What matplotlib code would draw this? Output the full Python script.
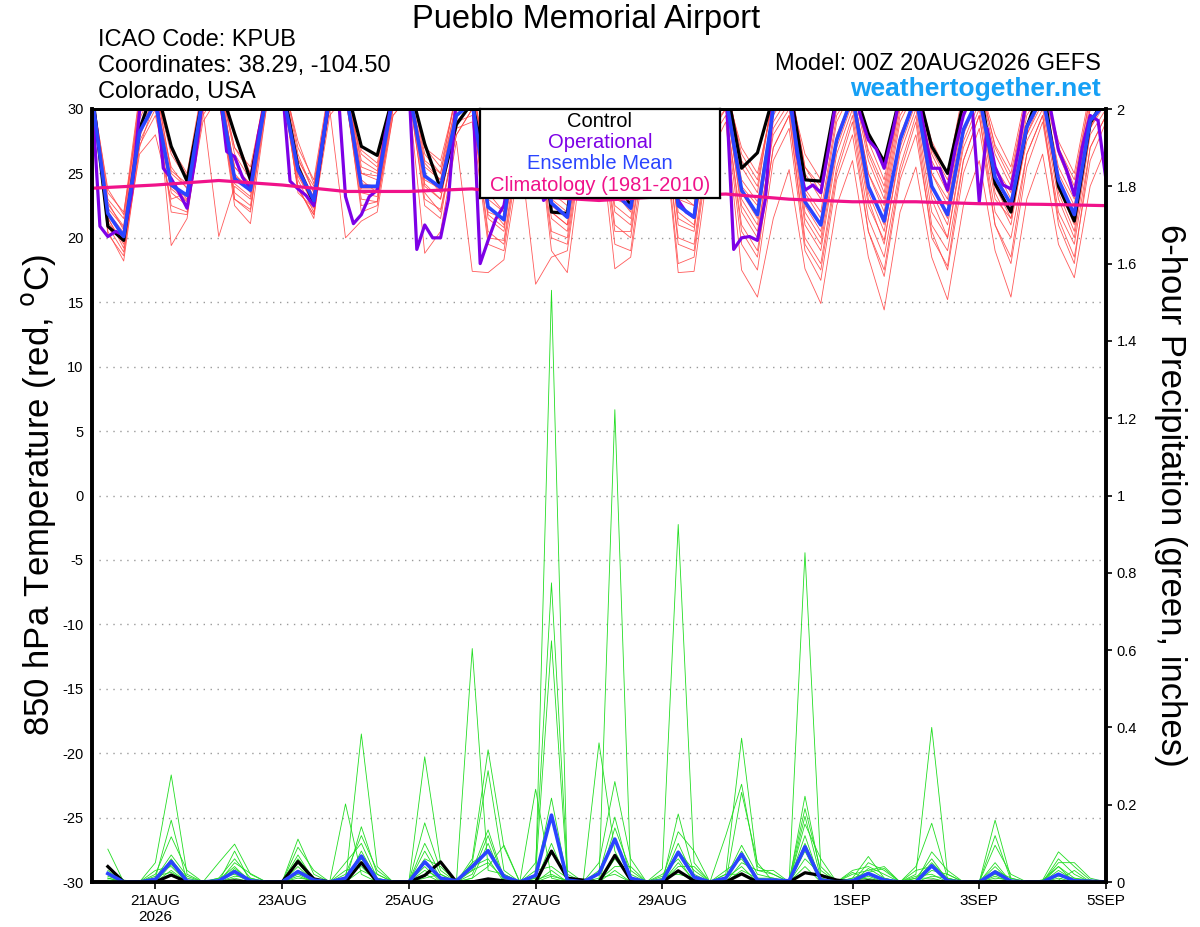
import numpy as np
import matplotlib.pyplot as plt

plt.rcParams['font.family'] = ['Liberation Sans', 'DejaVu Sans']
plt.rcParams['axes.unicode_minus'] = False

# time axes (hours after 00Z 20AUG2026)
hours6 = np.arange(0, 385, 6)
hours3 = np.arange(0, 385, 3)
clim_hours = np.arange(0, 385, 24)

tick_hours = [24, 72, 120, 168, 216, 288, 336, 384]
tick_labels = ['21AUG\n2026', '23AUG', '25AUG', '27AUG', '29AUG', '1SEP', '3SEP', '5SEP']

# 850 hPa temperature, 6-hourly
control_t = [31.5, 20.9, 19.8, 28.4,
             32, 27.1, 24.4, 31,
             32, 28.1, 24.5, 31,
             32, 25.5, 22.7, 31,
             32, 27.1, 26.4, 31,
             32, 27.3, 23.8, 28.8,
             30.5, 24.5, 23.8, 31,
             32, 22.0, 21.9, 31,
             32, 25.0, 22.4, 31,
             32, 25.5, 23.8, 31,
             32, 25.4, 26.6, 31,
             32, 24.5, 24.4, 31,
             32, 28.1, 25.9, 31,
             32, 27.1, 25.0, 30.5,
             32, 24.2, 22.0, 28.6,
             32, 24.0, 21.3, 28.9,
             31]

mean_t = [31, 21.9, 20.1, 28.2,
          30.5, 24.1, 23.3, 31,
          31.5, 24.6, 23.7, 31,
          31.5, 25.3, 22.9, 31,
          31.5, 24.0, 24.0, 31,
          31.5, 24.8, 23.9, 29.5,
          30.5, 22.4, 21.4, 30,
          31, 22.7, 21.6, 30,
          31, 23.5, 22.3, 30,
          31, 22.5, 21.6, 30.5,
          31, 23.7, 21.8, 30,
          31, 22.8, 21.0, 27.6,
          31, 24.0, 21.3, 27.6,
          31, 24.0, 21.8, 28.4,
          31, 24.7, 22.6, 28.6,
          31, 24.5, 21.8, 29.1,
          30.5]

# operational run, 3-hourly
oper_t = [31, 20.9, 20.1, 20.5, 20.2, 23.5, 29.8, 31.5,
          32, 25.4, 24.6, 23.5, 22.3, 26, 31, 32,
          32, 26.7, 26.3, 24.7, 23.8, 28, 31, 32,
          32, 24.4, 23.8, 23.3, 22.5, 27, 31, 32,
          23.2, 21.1, 21.8, 23.2, 23.7, 28, 31, 32,
          32, 19.1, 21.0, 20.0, 20.0, 23.0, 31, 32,
          32, 18.0, 19.8, 21.5, 22.5, 26, 31, 32,
          27, 22.9, 23.5, 24, 23.5, 28, 31, 32,
          32, 26, 24.5, 24, 23.5, 27, 31, 32,
          32, 25, 22.9, 22.0, 21.6, 26, 31, 32,
          32, 19.1, 20.0, 20.1, 19.8, 23.0, 31, 32,
          32, 26.5, 23.7, 24.1, 23.5, 27, 31, 32,
          32, 29.5, 27.6, 26.9, 25.4, 28, 31, 32,
          32, 28.5, 25.4, 25.4, 23.7, 27, 29.5, 31,
          22.8, 28.5, 25.5, 24.1, 23.8, 27, 31, 32,
          32, 30, 26.8, 25.3, 23.3, 27, 29.5, 29.1,
          24.5]

clim_t = [23.85, 24.1, 24.45, 24.1, 23.6, 23.6, 23.8, 23.2, 22.9,
          23.2, 23.4, 23.0, 22.8, 22.8, 22.65, 22.6, 22.5]

# ensemble members, one row per 6-hour step
members_t = [
    [31.5, 31.2, 31.8, 31.4, 31.6, 31.3, 31.7, 31.5, 31.2, 31.6, 31.4, 31.6, 31.3, 31.5],
    [21.5, 22.3, 20.5, 23.0, 21.8, 22.6, 20.9, 23.5, 21.2, 22.0, 22.8, 20.3, 23.8, 21.6],
    [19.5, 20.8, 18.2, 21.5, 20.0, 20.9, 18.9, 22.0, 19.7, 20.4, 20.6, 18.6, 21.8, 19.2],
    [28.5, 29.2, 27.0, 30.5, 27.8, 31.0, 26.5, 29.8, 28.0, 28.8, 30.0, 27.5, 31.2, 27.2],
    [31.5, 32.0, 30.8, 32.5, 31.0, 32.2, 28.0, 31.8, 31.2, 30.5, 32.0, 30.0, 31.5, 29.5],
    [24.5, 25.2, 22.0, 26.8, 23.5, 19.4, 23.0, 27.0, 24.0, 25.5, 25.0, 22.5, 26.5, 23.8],
    [23.0, 24.2, 21.8, 24.8, 22.5, 21.5, 23.5, 25.0, 22.9, 23.8, 23.9, 22.0, 24.5, 22.8],
    [31.5, 32.0, 29.5, 31.0, 30.5, 30.0, 31.8, 32.0, 31.0, 30.8, 31.5, 29.0, 31.5, 30.0],
    [33.0, 32.5, 31.5, 32.0, 31.0, 20.1, 32.5, 33.0, 31.8, 32.0, 32.0, 31.0, 32.5, 30.5],
    [25.0, 26.5, 23.5, 27.0, 22.5, 24.0, 24.8, 28.0, 23.0, 25.5, 25.5, 23.0, 27.0, 24.2],
    [23.5, 24.5, 22.5, 25.5, 21.1, 23.0, 24.0, 25.0, 22.0, 24.2, 24.0, 22.2, 25.0, 23.2],
    [31.0, 32.0, 30.5, 31.5, 30.0, 31.0, 32.0, 31.5, 30.8, 31.2, 31.0, 30.0, 32.0, 30.5],
    [32.5, 33.0, 32.0, 32.5, 31.5, 32.5, 33.0, 32.0, 31.8, 32.2, 32.0, 31.5, 32.5, 31.0],
    [25.0, 26.5, 23.8, 26.0, 24.5, 25.5, 27.0, 24.0, 25.8, 23.5, 26.2, 23.8, 27.5, 24.8],
    [22.5, 23.5, 21.8, 24.0, 22.0, 23.2, 24.5, 21.5, 23.0, 22.3, 23.5, 21.8, 24.2, 22.6],
    [31.0, 32.0, 30.5, 31.5, 30.0, 31.5, 32.0, 30.8, 31.2, 31.0, 31.0, 29.5, 31.5, 30.2],
    [32.0, 32.5, 31.5, 31.0, 20.0, 32.0, 33.0, 31.0, 31.5, 32.0, 32.0, 31.0, 32.5, 30.8],
    [24.5, 25.0, 22.0, 26.5, 21.3, 23.8, 25.5, 23.0, 24.2, 26.0, 25.0, 22.5, 26.8, 23.5],
    [23.5, 24.8, 22.5, 25.5, 22.0, 23.8, 25.0, 22.8, 24.0, 25.2, 24.5, 22.8, 25.8, 23.2],
    [30.5, 31.5, 30.0, 31.0, 29.5, 31.0, 32.0, 30.5, 31.0, 30.8, 31.0, 29.5, 31.5, 30.0],
    [32.0, 32.5, 31.5, 32.0, 31.0, 32.2, 33.0, 31.5, 31.8, 32.0, 32.0, 31.0, 32.5, 31.5],
    [25.0, 26.5, 23.5, 27.0, 18.8, 24.5, 26.0, 22.5, 25.5, 24.0, 25.8, 23.0, 27.0, 24.2],
    [23.5, 25.0, 22.0, 26.0, 20.5, 23.8, 25.0, 21.5, 24.5, 23.0, 24.5, 22.2, 25.5, 23.0],
    [29.5, 30.5, 28.0, 31.0, 27.5, 29.0, 31.5, 28.5, 30.0, 29.8, 30.5, 28.0, 31.0, 29.0],
    [31.0, 32.0, 30.0, 31.5, 17.4, 30.5, 32.0, 29.0, 31.0, 30.8, 31.5, 30.0, 32.0, 29.5],
    [22.5, 24.0, 20.5, 25.5, 17.3, 22.0, 24.5, 19.5, 23.0, 21.5, 23.5, 20.0, 25.0, 21.8],
    [21.0, 23.0, 19.5, 24.5, 18.3, 21.5, 23.5, 19.0, 22.0, 20.5, 22.0, 19.8, 23.8, 20.8],
    [29.0, 30.5, 27.5, 31.0, 26.0, 29.5, 31.5, 27.0, 30.0, 28.5, 30.0, 28.0, 31.0, 28.5],
    [31.0, 32.0, 29.5, 31.5, 30.0, 30.5, 32.0, 16.4, 31.0, 30.0, 31.5, 30.0, 32.0, 29.5],
    [22.5, 24.5, 20.0, 25.5, 19.0, 22.0, 24.0, 18.5, 23.0, 21.5, 23.5, 20.5, 25.0, 22.0],
    [21.5, 23.0, 19.5, 24.0, 17.3, 21.0, 23.5, 19.0, 22.0, 20.5, 22.5, 20.0, 23.5, 21.0],
    [29.5, 31.0, 28.0, 30.5, 27.0, 29.0, 31.5, 27.5, 30.0, 29.0, 30.5, 28.5, 31.0, 29.0],
    [31.5, 32.0, 30.5, 31.0, 29.0, 31.5, 32.5, 30.0, 31.0, 31.0, 31.5, 30.0, 32.0, 30.5],
    [23.5, 25.5, 21.0, 26.5, 17.6, 23.0, 25.0, 19.5, 24.0, 22.0, 24.5, 20.5, 26.0, 22.5],
    [22.0, 24.0, 20.0, 25.0, 18.5, 22.5, 24.5, 19.0, 23.0, 21.0, 23.0, 20.5, 24.0, 21.5],
    [30.0, 31.5, 28.5, 31.0, 27.0, 30.5, 32.0, 28.0, 30.0, 29.5, 30.5, 28.5, 31.5, 29.0],
    [31.5, 32.5, 30.5, 31.0, 29.5, 32.0, 32.5, 30.0, 31.0, 31.5, 31.5, 30.0, 32.0, 30.5],
    [22.0, 24.5, 19.5, 25.5, 17.3, 22.5, 24.0, 18.0, 23.0, 21.0, 23.5, 20.0, 25.0, 21.5],
    [21.0, 23.5, 19.0, 24.5, 17.4, 21.5, 23.0, 18.5, 22.5, 20.5, 22.5, 19.5, 24.0, 20.8],
    [30.0, 31.5, 28.0, 31.0, 26.5, 30.0, 32.0, 27.5, 30.5, 29.5, 31.0, 28.5, 31.5, 29.0],
    [31.5, 32.5, 30.0, 31.5, 29.0, 32.0, 32.5, 29.5, 31.0, 31.0, 31.5, 30.0, 32.0, 30.5],
    [23.5, 26.0, 21.0, 27.0, 17.5, 23.0, 25.5, 19.5, 24.0, 22.0, 24.5, 20.5, 26.5, 22.5],
    [21.5, 24.0, 19.0, 25.0, 15.4, 21.0, 23.5, 17.5, 22.5, 20.0, 22.8, 18.5, 24.5, 20.5],
    [29.0, 31.0, 27.0, 30.5, 21.5, 29.5, 31.5, 26.0, 30.0, 28.5, 30.0, 27.0, 31.0, 28.0],
    [31.0, 32.5, 29.5, 31.5, 25.3, 31.5, 32.0, 28.5, 31.0, 30.5, 31.5, 29.5, 32.0, 30.0],
    [22.5, 25.5, 20.0, 26.5, 17.6, 22.0, 25.0, 19.0, 23.5, 21.5, 23.8, 19.5, 25.5, 21.0],
    [20.5, 23.5, 18.0, 24.5, 14.9, 20.0, 23.0, 16.7, 21.5, 19.5, 22.0, 17.5, 24.0, 19.0],
    [28.0, 30.5, 25.5, 31.0, 22.5, 27.5, 30.0, 24.5, 29.0, 27.0, 29.5, 25.0, 30.5, 26.5],
    [31.0, 32.5, 29.5, 32.0, 26.0, 31.0, 32.0, 28.0, 31.5, 30.5, 31.5, 29.0, 32.0, 30.0],
    [24.0, 26.5, 21.5, 27.5, 18.5, 23.5, 26.0, 20.5, 25.0, 23.0, 25.0, 20.5, 26.8, 22.5],
    [21.0, 23.5, 18.5, 24.5, 14.4, 20.5, 23.0, 17.0, 22.0, 19.5, 22.5, 17.5, 24.0, 19.8],
    [28.0, 30.5, 25.5, 31.0, 22.0, 27.5, 30.0, 24.5, 29.0, 27.0, 29.5, 25.0, 30.5, 26.5],
    [31.0, 32.5, 29.5, 32.0, 25.5, 31.0, 32.0, 28.0, 31.5, 30.5, 31.5, 29.0, 32.0, 30.0],
    [24.0, 26.5, 21.0, 27.5, 18.5, 23.5, 26.0, 20.5, 25.0, 23.0, 25.0, 20.0, 26.8, 22.0],
    [21.5, 24.0, 19.0, 25.0, 15.2, 21.0, 23.5, 17.5, 22.5, 20.0, 23.0, 17.8, 24.5, 20.0],
    [28.5, 31.0, 26.0, 31.5, 22.5, 28.0, 30.5, 25.0, 29.5, 27.5, 30.0, 26.0, 31.0, 27.0],
    [31.0, 32.5, 29.5, 32.0, 26.0, 31.0, 32.0, 28.5, 31.5, 30.5, 31.5, 29.5, 32.0, 30.0],
    [24.5, 27.0, 22.0, 28.0, 19.0, 24.0, 26.5, 21.0, 25.5, 23.5, 25.5, 21.0, 27.2, 23.0],
    [22.0, 24.5, 20.0, 25.5, 15.4, 21.5, 24.0, 18.0, 23.0, 21.0, 23.5, 18.5, 25.0, 21.5],
    [28.5, 31.0, 26.5, 31.5, 23.0, 28.0, 30.5, 25.5, 29.5, 28.0, 30.0, 26.5, 31.0, 27.5],
    [31.0, 32.5, 29.5, 32.0, 26.5, 31.0, 32.0, 29.0, 31.5, 30.5, 31.5, 29.5, 32.0, 30.0],
    [24.5, 27.0, 22.0, 27.5, 19.5, 24.0, 26.5, 21.5, 25.0, 23.5, 25.5, 21.0, 27.0, 23.0],
    [21.5, 24.0, 19.5, 25.0, 16.9, 21.0, 23.5, 18.5, 22.5, 20.5, 23.0, 18.0, 24.5, 20.0],
    [29.0, 31.0, 27.0, 31.5, 24.0, 28.5, 30.5, 26.0, 30.0, 28.5, 30.0, 27.0, 31.0, 28.0],
    [31.0, 32.5, 29.5, 32.0, 27.0, 31.0, 32.0, 29.0, 31.5, 30.5, 31.5, 29.5, 32.0, 30.0],
]

# 6-hour precipitation (inches), steps 06Z 20AUG .. 00Z 5SEP
control_p = [0.04, 0, 0, 0,
             0.018, 0, 0, 0,
             0.003, 0, 0, 0,
             0.053, 0.008, 0, 0,
             0.05, 0, 0, 0,
             0.017, 0.052, 0, 0,
             0.008, 0.003, 0, 0,
             0.08, 0.01, 0.005, 0,
             0.069, 0.005, 0, 0,
             0.029, 0.003, 0, 0,
             0.021, 0, 0, 0,
             0.024, 0.017, 0.005, 0,
             0.003, 0, 0, 0,
             0.002, 0, 0, 0,
             0, 0, 0, 0,
             0, 0, 0, 0]

mean_p = [0.022, 0, 0, 0.007,
          0.053, 0.002, 0, 0.003,
          0.027, 0.003, 0, 0,
          0.027, 0.005, 0, 0.01,
          0.067, 0.005, 0, 0,
          0.052, 0.01, 0.003, 0.04,
          0.081, 0.014, 0, 0.017,
          0.173, 0.005, 0, 0.022,
          0.111, 0.01, 0, 0.003,
          0.077, 0.013, 0, 0.01,
          0.072, 0.005, 0.005, 0.003,
          0.091, 0.005, 0, 0.003,
          0.022, 0.005, 0, 0,
          0.042, 0.003, 0, 0,
          0.026, 0.002, 0, 0,
          0.02, 0.003, 0.002, 0]

members_p = [
    [0.085, 0.03, 0.02, 0.01, 0.04, 0.0, 0.015, 0.005, 0.025, 0.01],
    [0, 0, 0, 0, 0.005, 0, 0, 0, 0, 0],
    [0, 0, 0, 0, 0, 0, 0, 0, 0, 0],
    [0.05, 0.01, 0.02, 0, 0.005, 0.03, 0, 0.015, 0.01, 0],
    [0.277, 0.16, 0.117, 0.06, 0.057, 0.04, 0.045, 0.025, 0.07, 0.03],
    [0.02, 0, 0.03, 0, 0.01, 0, 0.005, 0, 0.015, 0],
    [0, 0, 0, 0, 0, 0, 0, 0, 0, 0],
    [0.05, 0, 0.01, 0, 0.005, 0, 0, 0.01, 0, 0],
    [0.098, 0.08, 0.06, 0.05, 0.04, 0.035, 0.03, 0.02, 0.015, 0.01],
    [0.02, 0, 0.01, 0.022, 0, 0.005, 0, 0, 0.01, 0],
    [0, 0, 0, 0, 0, 0, 0, 0, 0, 0],
    [0, 0, 0, 0, 0, 0, 0, 0, 0, 0],
    [0.111, 0.09, 0.07, 0.06, 0.05, 0.04, 0.03, 0.02, 0.015, 0.01],
    [0.02, 0.03, 0.005, 0.01, 0, 0, 0.01, 0, 0, 0.005],
    [0, 0, 0, 0, 0, 0, 0, 0, 0, 0],
    [0, 0, 0.02, 0.05, 0, 0.01, 0, 0.03, 0, 0.202],
    [0.383, 0.143, 0.12, 0.1, 0.08, 0.06, 0.05, 0.04, 0.03, 0.02],
    [0.04, 0.02, 0.03, 0.01, 0.005, 0, 0.02, 0, 0.01, 0],
    [0, 0, 0, 0, 0, 0, 0, 0, 0, 0],
    [0, 0, 0, 0, 0, 0, 0, 0, 0, 0],
    [0.324, 0.153, 0.1, 0.08, 0.06, 0.05, 0.04, 0.03, 0.02, 0.01],
    [0.05, 0.03, 0.02, 0.01, 0.04, 0.005, 0, 0.01, 0, 0.02],
    [0, 0, 0, 0.005, 0, 0, 0, 0, 0, 0],
    [0.604, 0.06, 0.05, 0.03, 0.02, 0.01, 0.05, 0.04, 0.03, 0.01],
    [0.03, 0.342, 0.288, 0.135, 0.12, 0.1, 0.08, 0.06, 0.05, 0.04],
    [0.02, 0.09, 0.03, 0.01, 0.005, 0, 0.02, 0, 0.01, 0.095],
    [0, 0, 0, 0, 0, 0, 0, 0, 0, 0],
    [0.01, 0.05, 0.02, 0.01, 0, 0.03, 0, 0.005, 0, 0.24],
    [1.531, 0.774, 0.624, 0.217, 0.1, 0.04, 0.03, 0.02, 0.015, 0.01],
    [0.02, 0.03, 0.01, 0.005, 0, 0.01, 0, 0, 0.005, 0],
    [0, 0, 0, 0, 0, 0, 0, 0, 0, 0],
    [0, 0.05, 0.02, 0, 0.03, 0.36, 0, 0.005, 0, 0.01],
    [1.222, 0.26, 0.168, 0.14, 0.11, 0.08, 0.06, 0.04, 0.03, 0.02],
    [0.02, 0.06, 0.01, 0.03, 0.005, 0, 0.01, 0.04, 0, 0],
    [0, 0, 0, 0, 0, 0, 0, 0, 0, 0],
    [0.034, 0, 0.01, 0.005, 0, 0.02, 0, 0, 0, 0.015],
    [0.925, 0.176, 0.13, 0.1, 0.08, 0.06, 0.05, 0.04, 0.03, 0.02],
    [0.05, 0.02, 0.08, 0.01, 0.03, 0, 0.005, 0.04, 0, 0.01],
    [0, 0, 0, 0, 0, 0, 0, 0, 0, 0],
    [0.02, 0.12, 0, 0.01, 0.005, 0.03, 0, 0.01, 0, 0.02],
    [0.372, 0.253, 0.232, 0.095, 0.08, 0.06, 0.05, 0.04, 0.03, 0.02],
    [0.04, 0.03, 0.05, 0.02, 0.01, 0.005, 0.03, 0, 0.01, 0],
    [0.02, 0.03, 0, 0.01, 0.005, 0, 0.02, 0, 0.01, 0],
    [0, 0, 0.005, 0, 0, 0, 0, 0, 0, 0],
    [0.852, 0.222, 0.19, 0.17, 0.15, 0.12, 0.1, 0.08, 0.06, 0.04],
    [0.04, 0.02, 0.03, 0.01, 0.06, 0, 0.01, 0, 0.02, 0],
    [0, 0.005, 0, 0, 0, 0, 0, 0, 0, 0],
    [0.01, 0, 0.03, 0.02, 0, 0.005, 0, 0.01, 0, 0.025],
    [0.066, 0.05, 0.04, 0.03, 0.02, 0.01, 0.035, 0.025, 0.015, 0.005],
    [0.01, 0.03, 0.02, 0.04, 0.005, 0, 0.01, 0.035, 0, 0],
    [0, 0, 0, 0, 0, 0, 0, 0, 0, 0],
    [0.02, 0.04, 0, 0.01, 0.005, 0.03, 0, 0.015, 0, 0.01],
    [0.40, 0.152, 0.078, 0.06, 0.05, 0.04, 0.03, 0.02, 0.015, 0.01],
    [0.02, 0.01, 0.03, 0.005, 0.01, 0, 0.02, 0, 0.01, 0],
    [0, 0, 0, 0, 0, 0, 0, 0, 0, 0],
    [0, 0, 0, 0, 0, 0, 0, 0, 0, 0],
    [0.16, 0.12, 0.095, 0.05, 0.04, 0.03, 0.02, 0.015, 0.01, 0.005],
    [0.01, 0.005, 0.02, 0, 0, 0.01, 0, 0, 0.005, 0],
    [0, 0, 0, 0, 0, 0, 0, 0, 0, 0],
    [0.005, 0, 0, 0.005, 0, 0, 0, 0, 0, 0],
    [0.078, 0.06, 0.05, 0.04, 0.03, 0.02, 0.015, 0.01, 0.005, 0.04],
    [0.04, 0.02, 0.05, 0.01, 0.005, 0, 0.01, 0, 0.03, 0],
    [0.005, 0, 0.01, 0, 0, 0, 0.005, 0, 0, 0],
    [0, 0, 0, 0, 0, 0, 0, 0, 0, 0],
]

fig = plt.figure(figsize=(12, 9.27), dpi=100)
ax = fig.add_axes([92 / 1200, 45 / 927, 1014 / 1200, 773 / 927])

for m in np.array(members_t).T:
    ax.plot(hours6, m, color='#ff4848', lw=0.6, alpha=0.9)
ax.plot(hours6, control_t, color='black', lw=2.3)
ax.plot(hours3, oper_t, color='#7d00e6', lw=2.3)
ax.plot(hours6, mean_t, color='#2a44ff', lw=2.6)
ax.plot(clim_hours, clim_t, color='#f0128a', lw=2.3)

ax.set_xlim(0, 384)
ax.set_ylim(-30, 30)
ax.set_yticks(range(-30, 31, 5))
ax.set_xticks(tick_hours)
ax.set_xticklabels(tick_labels)
ax.yaxis.grid(True, linestyle=(0, (1, 4)), color='#9a9a9a', lw=1)
ax.tick_params(axis='y', labelsize=10.5, length=0, pad=6)
ax.tick_params(axis='x', labelsize=11, length=5, width=1.2, direction='out')
ax.set_ylabel('850 hPa Temperature (red, $^\\mathrm{o}$C)', fontsize=25, labelpad=3)

ax2 = ax.twinx()
for m in np.array(members_p).T:
    ax2.plot(hours6[1:], m, color='#22dd22', lw=0.6)
ax2.plot(hours6[1:], control_p, color='black', lw=2.3)
ax2.plot(hours6[1:], mean_p, color='#2a44ff', lw=2.6)
ax2.set_ylim(0, 2)
ax2.set_yticks(np.arange(0, 2.01, 0.2))
ax2.set_yticklabels(['0', '0.2', '0.4', '0.6', '0.8', '1', '1.2', '1.4', '1.6', '1.8', '2'])
ax2.tick_params(axis='y', labelsize=10.5, length=4, width=1.2)
ax2.set_ylabel('6-hour Precipitation (green, inches)', fontsize=25, rotation=-90, labelpad=36)

for a in (ax, ax2):
    for s in a.spines.values():
        s.set_linewidth(2)
    a.spines['left'].set_linewidth(2.6)
    a.spines['right'].set_linewidth(2.6)
    a.spines['bottom'].set_linewidth(2.6)

# legend box
lax = fig.add_axes([480 / 1200, (927 - 198) / 927, 240 / 1200, 89 / 927])
lax.set_xticks([])
lax.set_yticks([])
for s in lax.spines.values():
    s.set_linewidth(1.6)
leg_items = [('Control', 'black'), ('Operational', '#7d00e6'),
             ('Ensemble Mean', '#2a44ff'), ('Climatology (1981-2010)', '#f0128a')]
for k, (txt, col) in enumerate(leg_items):
    lax.text(0.5, 0.865 - k * 0.24, txt, color=col, fontsize=14.5,
             ha='center', va='center', transform=lax.transAxes)

# header
fig.text(0.488, 0.979, 'Pueblo Memorial Airport', fontsize=23.5, ha='center', va='center')
fig.text(98 / 1200, 1 - 40 / 927, 'ICAO Code: KPUB', fontsize=17, va='center')
fig.text(98 / 1200, 1 - 66 / 927, 'Coordinates: 38.29, -104.50', fontsize=17, va='center')
fig.text(98 / 1200, 1 - 92 / 927, 'Colorado, USA', fontsize=17, va='center')
fig.text(1101 / 1200, 1 - 64 / 927, 'Model: 00Z 20AUG2026 GEFS', fontsize=17, ha='right', va='center')
fig.text(1101 / 1200, 1 - 89 / 927, 'weathertogether.net', fontsize=19, fontweight='bold',
         color='#16a0f5', ha='right', va='center')

fig.savefig('out.png', dpi=100)
